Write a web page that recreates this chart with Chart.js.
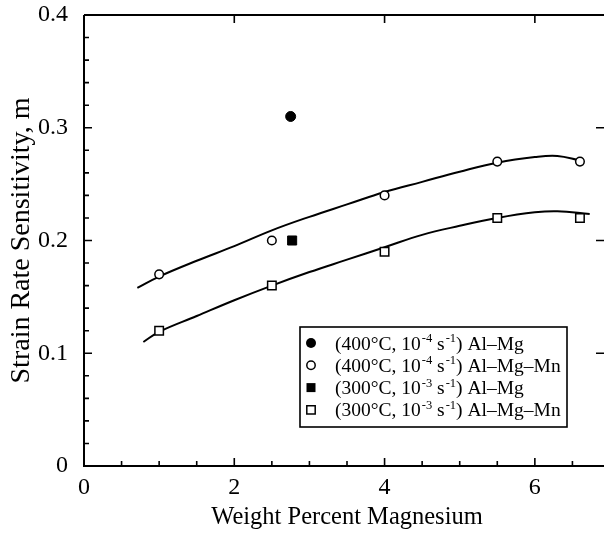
<!DOCTYPE html>
<html><head><meta charset="utf-8">
<script src="https://cdn.jsdelivr.net/npm/chart.js@4"></script>
<style>
html,body{margin:0;padding:0;background:#fff;overflow:hidden;width:604px;height:534px}
#wrap{width:610px;height:534px;position:relative}
</style>
</head><body><div id="wrap"><canvas id="c" width="610" height="534"></canvas></div>
<script>
// ---- data ----
const xTickValues = [0, 2, 4, 6];
const yTickValues = [0, 0.1, 0.2, 0.3, 0.4];
const xMinorTicks = [0.5, 1, 1.5, 2.5, 3, 3.5, 4.5, 5, 5.5, 6.5];
const yMinorTicks = [0.02, 0.04, 0.06, 0.08, 0.12, 0.14, 0.16, 0.18, 0.22, 0.24, 0.26, 0.28, 0.32, 0.34, 0.36, 0.38];
const xTitle = "Weight Percent Magnesium";
const yTitle = "Strain Rate Sensitivity, m";

const alMg400X = [2.75];
const alMg400Y = [0.31];
const alMgMn400X = [1.0, 2.5, 4.0, 5.5, 6.6];
const alMgMn400Y = [0.17, 0.20, 0.24, 0.27, 0.27];
const alMg300X = [2.77];
const alMg300Y = [0.20];
const alMgMn300X = [1.0, 2.5, 4.0, 5.5, 6.6];
const alMgMn300Y = [0.12, 0.16, 0.19, 0.22, 0.22];

// fitted curves
const fit400X = [0.71, 1.0, 1.5, 2.0, 2.5, 3.0, 3.5, 4.0, 4.5, 5.0, 5.5, 6.0, 6.3, 6.6];
const fit400Y = [0.158, 0.168, 0.182, 0.195, 0.209, 0.221, 0.232, 0.243, 0.252, 0.261, 0.269, 0.274, 0.275, 0.271];
const fit300X = [0.79, 1.0, 1.5, 2.0, 2.5, 3.0, 3.5, 4.0, 4.5, 5.0, 5.5, 6.0, 6.3, 6.73];
const fit300Y = [0.110, 0.119, 0.133, 0.147, 0.160, 0.172, 0.183, 0.194, 0.205, 0.213, 0.220, 0.225, 0.226, 0.2235];

const legendLabels = [
  "(400°C, 10^{-4} s^{-1}) Al–Mg",
  "(400°C, 10^{-4} s^{-1}) Al–Mg–Mn",
  "(300°C, 10^{-3} s^{-1}) Al–Mg",
  "(300°C, 10^{-3} s^{-1}) Al–Mg–Mn"
];
const legendMarkers = ["filledCircle", "openCircle", "filledSquare", "openSquare"];

const pts = (xs, ys) => xs.map((x, i) => ({x: x, y: ys[i]}));
const FONT = "'Liberation Serif', 'Times New Roman', serif";

// ---- frame / ticks plugin ----
const framePlugin = {
  id: 'frame',
  beforeDatasetsDraw(chart) {
    const {ctx, chartArea: a, scales: {x, y}} = chart;
    ctx.save();
    ctx.strokeStyle = '#000';
    ctx.lineWidth = 2;
    ctx.beginPath();
    ctx.moveTo(a.left, a.top); ctx.lineTo(a.right, a.top);
    ctx.moveTo(a.left, a.top); ctx.lineTo(a.left, a.bottom);
    ctx.moveTo(a.left - 1, a.bottom); ctx.lineTo(a.right, a.bottom);
    ctx.moveTo(a.right, a.top); ctx.lineTo(a.right, a.bottom);
    ctx.stroke();
    ctx.lineWidth = 1.6;
    ctx.beginPath();
    const MAJ = 8, MIN = 5, RIGHT = 14;
    xTickValues.forEach(v => { const p = x.getPixelForValue(v); ctx.moveTo(p, a.bottom); ctx.lineTo(p, a.bottom - MAJ); ctx.moveTo(p, a.top); ctx.lineTo(p, a.top + MAJ); });
    xMinorTicks.forEach(v => { const p = x.getPixelForValue(v); ctx.moveTo(p, a.bottom); ctx.lineTo(p, a.bottom - MIN); });
    yTickValues.forEach(v => { const p = y.getPixelForValue(v); ctx.moveTo(a.left, p); ctx.lineTo(a.left + MAJ, p); ctx.moveTo(a.right, p); ctx.lineTo(a.right - RIGHT, p); });
    yMinorTicks.forEach(v => { const p = y.getPixelForValue(v); ctx.moveTo(a.left, p); ctx.lineTo(a.left + MIN, p); });
    ctx.stroke();
    ctx.restore();
  }
};

// ---- legend plugin (with superscripts) ----
function drawMarker(ctx, kind, cx, cy) {
  ctx.save();
  ctx.lineWidth = 1.5; ctx.strokeStyle = '#000'; ctx.fillStyle = '#000';
  ctx.beginPath();
  if (kind === 'filledCircle') { ctx.arc(cx, cy, 5, 0, Math.PI * 2); ctx.fill(); }
  else if (kind === 'openCircle') { ctx.arc(cx, cy, 4.2, 0, Math.PI * 2); ctx.fillStyle = '#fff'; ctx.fill(); ctx.stroke(); }
  else if (kind === 'filledSquare') { ctx.rect(cx - 4.5, cy - 4.5, 9, 9); ctx.fill(); }
  else { ctx.rect(cx - 4.2, cy - 4.2, 8.4, 8.4); ctx.fillStyle = '#fff'; ctx.fill(); ctx.stroke(); }
  ctx.restore();
}
const legendPlugin = {
  id: 'boxLegend',
  afterDatasetsDraw(chart) {
    const {ctx, chartArea: a} = chart;
    const L = a.left + 216, T = a.top + 312, R = a.left + 483, B = a.top + 412;
    ctx.save();
    ctx.fillStyle = '#fff';
    ctx.fillRect(L, T, R - L, B - T);
    ctx.strokeStyle = '#000'; ctx.lineWidth = 1.6;
    ctx.strokeRect(L, T, R - L, B - T);
    const rowY0 = T + 16, rowH = 22.3;
    legendLabels.forEach((lab, i) => {
      const cy = rowY0 + i * rowH;
      drawMarker(ctx, legendMarkers[i], L + 11, cy);
      const parts = lab.split(/(\^\{[^}]*\})/).filter(s => s.length);
      let tx = L + 35;
      ctx.fillStyle = '#000';
      ctx.textBaseline = 'alphabetic';
      parts.forEach(p => {
        if (p.startsWith('^{')) {
          const s = p.slice(2, -1);
          ctx.font = '12.5px ' + FONT;
          ctx.fillText(s, tx + 1, cy - 1);
          tx += ctx.measureText(s).width + 1;
        } else {
          ctx.font = '19.5px ' + FONT;
          ctx.fillText(p, tx, cy + 6.5);
          tx += ctx.measureText(p).width;
        }
      });
    });
    ctx.restore();
  }
};

new Chart(document.getElementById('c'), {
  type: 'scatter',
  data: {
    datasets: [
      { label: '(400°C, 10-4 s-1) Al–Mg', data: pts(alMg400X, alMg400Y), pointStyle: 'circle', pointRadius: 5, backgroundColor: '#000', borderColor: '#000', borderWidth: 1 },
      { label: '(400°C, 10-4 s-1) Al–Mg–Mn', data: pts(alMgMn400X, alMgMn400Y), pointStyle: 'circle', pointRadius: 4.3, backgroundColor: '#fff', borderColor: '#000', borderWidth: 1.5 },
      { label: '(300°C, 10-3 s-1) Al–Mg', data: pts(alMg300X, alMg300Y), pointStyle: 'rect', pointRadius: 6.4, backgroundColor: '#000', borderColor: '#000', borderWidth: 1 },
      { label: '(300°C, 10-3 s-1) Al–Mg–Mn', data: pts(alMgMn300X, alMgMn300Y), pointStyle: 'rect', pointRadius: 6, backgroundColor: '#fff', borderColor: '#000', borderWidth: 1.5 },
      { type: 'line', label: 'fit 400', data: pts(fit400X, fit400Y), showLine: true, pointRadius: 0, borderColor: '#000', borderWidth: 2, tension: 0.4, fill: false },
      { type: 'line', label: 'fit 300', data: pts(fit300X, fit300Y), showLine: true, pointRadius: 0, borderColor: '#000', borderWidth: 2, tension: 0.4, fill: false }
    ]
  },
  options: {
    responsive: false,
    animation: false,
    devicePixelRatio: 1,
    layout: { autoPadding: false, padding: { top: 15, left: 0, right: 0, bottom: 0 } },
    plugins: { legend: { display: false }, tooltip: { enabled: false } },
    scales: {
      x: {
        type: 'linear', min: 0, max: 7,
        afterBuildTicks: s => { s.ticks = xTickValues.map(v => ({value: v})); },
        afterFit: s => { s.height = 68; s.paddingLeft = 0; s.paddingRight = 0; },
        grid: { display: false, drawTicks: false },
        border: { display: false },
        ticks: { color: '#000', padding: 7, font: { family: FONT, size: 24 }, maxRotation: 0 },
        title: { display: true, text: xTitle, color: '#000', font: { family: FONT, size: 24.5 }, padding: { top: 0, bottom: 2 } }
      },
      y: {
        type: 'linear', min: 0, max: 0.4,
        afterBuildTicks: s => { s.ticks = yTickValues.map(v => ({value: v})); },
        afterFit: s => { s.width = 84; s.paddingTop = 0; s.paddingBottom = 0; },
        grid: { display: false, drawTicks: false },
        border: { display: false },
        ticks: { color: '#000', padding: 16, font: { family: FONT, size: 24 }, callback: v => String(v) },
        title: { display: true, text: yTitle, color: '#000', font: { family: FONT, size: 28 }, padding: { top: 5, bottom: 0 } }
      }
    }
  },
  plugins: [framePlugin, legendPlugin]
});
</script>
</body></html>
